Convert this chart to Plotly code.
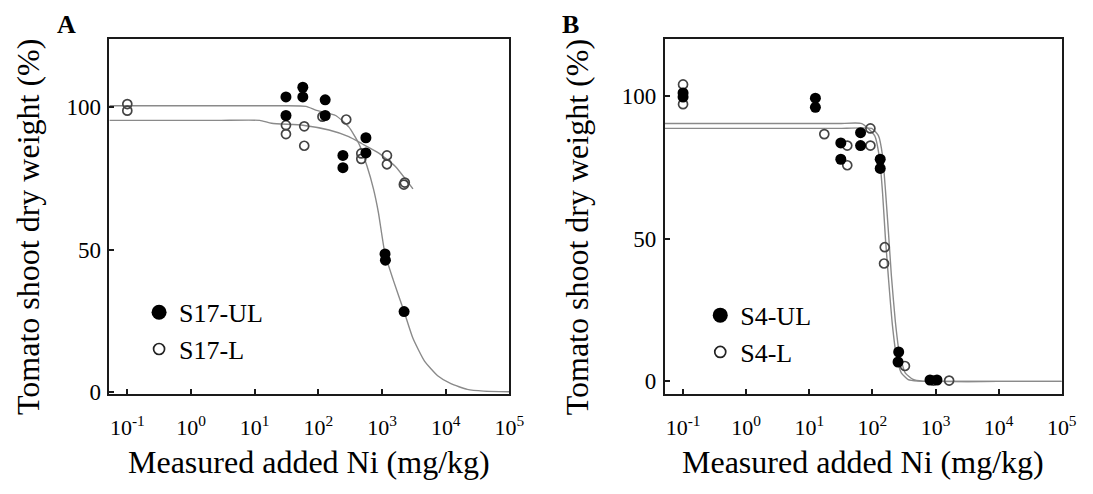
import plotly.graph_objects as go

# ---------------- data ----------------
# Panel A
A_ul_x = [31, 31, 57, 57, 128, 128, 243, 243, 558, 558, 1114, 1130, 2219]
A_ul_y = [103.5, 97, 106.9, 103.5, 102.5, 97, 83, 78.7, 89.2, 83.9, 48.5, 46.3, 28.3]
A_l_x = [0.1, 0.1, 31, 31, 60, 60, 116, 274, 472, 472, 1194, 1194, 2275, 2200]
A_l_y = [101, 98.7, 93.6, 90.5, 93.2, 86.4, 96.6, 95.6, 83.7, 81.8, 83, 79.9, 73.5, 72.8]
A_ulfit_x = [0.052, 0.3, 1, 3, 10, 30, 64, 91, 187, 300, 430, 580, 733, 877, 1114, 1497, 2218,
             3057, 4645, 7470, 12050, 21800, 39500, 100000]
A_ulfit_y = [100.4, 100.4, 100.4, 100.4, 100.4, 100.4, 100.2, 98.9, 97, 93, 87.3, 79.3, 71.3,
             63, 48.5, 39.4, 28.3, 18.9, 10.9, 5.8, 3, 1, 0.4, 0.2]
A_lfit_x = [0.052, 0.3, 1, 3, 12, 18.4, 57, 147, 300, 484, 877, 1592, 3057]
A_lfit_y = [95.3, 95.3, 95.3, 95.3, 95.3, 94.3, 93.6, 91.9, 89.6, 87.1, 83.9, 79.3, 71.3]

# Panel B
B_ul_x = [0.1, 0.1, 12.5, 12.5, 31.6, 31.6, 65, 65, 133, 133, 261, 255, 818, 1055]
B_ul_y = [101, 99.6, 99.2, 96.0, 83.5, 77.8, 87.1, 82.6, 77.8, 74.6, 10.3, 6.8, 0.5, 0.5]
B_l_x = [0.1, 0.1, 17.3, 40, 40, 93, 93, 157, 153, 328, 927, 1644]
B_l_y = [104, 97.1, 86.6, 82.6, 75.7, 88.6, 82.6, 47, 41.3, 5.4, 0.3, 0.3]
B_ulfit_x = [0.051, 0.3, 1, 3, 10, 30, 68, 109, 130, 145, 161, 180, 207, 240, 287, 369, 529,
             1000, 10000, 100000]
B_ulfit_y = [90.3, 90.3, 90.3, 90.3, 90.3, 90.3, 90.3, 86, 78, 66, 50, 36, 20, 9, 3, 0.6, 0.1,
             0, 0, 0]
B_lfit_x = [0.051, 0.3, 1, 3, 10, 30, 97.5, 125, 145, 161, 180, 200, 231, 267, 331, 442, 631,
            1000, 10000, 100000]
B_lfit_y = [88.6, 88.6, 88.6, 88.6, 88.6, 88.6, 88.6, 86, 79, 67, 52, 37, 21, 10, 3, 0.7, 0.1,
            0, 0, 0]

x_tickvals = [0.1, 1, 10, 100, 1000, 10000, 100000]
x_ticktext = ["10<sup>-1</sup>", "10<sup>0</sup>", "10<sup>1</sup>", "10<sup>2</sup>",
              "10<sup>3</sup>", "10<sup>4</sup>", "10<sup>5</sup>"]
y_tickvals = [0, 50, 100]
legend_A = ["S17-UL", "S17-L"]
legend_B = ["S4-UL", "S4-L"]
x_title = "Measured added Ni (mg/kg)"
y_title = "Tomato shoot dry weight (%)"

# ---------------- figure ----------------
W, H = 1093, 494
FONT = "Liberation Serif"
fig = go.Figure()

fitline = dict(color="#8a8a8a", width=1.4, shape="spline", smoothing=0.5)
filled = dict(symbol="circle", size=11, color="black", line=dict(width=0))
openm = dict(symbol="circle-open", size=9, color="#444", line=dict(width=1.7, color="#444"))

def add_panel(xa, ya, leg, fit1x, fit1y, fit2x, fit2y, ulx, uly, lx, ly, names):
    fig.add_trace(go.Scatter(x=fit1x, y=fit1y, mode="lines", line=fitline, xaxis=xa, yaxis=ya,
                             showlegend=False, hoverinfo="skip"))
    fig.add_trace(go.Scatter(x=fit2x, y=fit2y, mode="lines", line=fitline, xaxis=xa, yaxis=ya,
                             showlegend=False, hoverinfo="skip"))
    fig.add_trace(go.Scatter(x=lx, y=ly, mode="markers", marker=openm, xaxis=xa, yaxis=ya,
                             showlegend=False))
    fig.add_trace(go.Scatter(x=ulx, y=uly, mode="markers", marker=filled, xaxis=xa, yaxis=ya,
                             showlegend=False))
    # legend entries
    fig.add_trace(go.Scatter(x=[None], y=[None], mode="markers", name=names[0], xaxis=xa, yaxis=ya,
                             marker=dict(symbol="circle", size=15, color="black"), legend=leg))
    fig.add_trace(go.Scatter(x=[None], y=[None], mode="markers", name=names[1], xaxis=xa, yaxis=ya,
                             marker=dict(symbol="circle-open", size=11, color="#222",
                                         line=dict(width=1.7, color="#222")), legend=leg))

add_panel("x", "y", "legend", A_ulfit_x, A_ulfit_y, A_lfit_x, A_lfit_y,
          A_ul_x, A_ul_y, A_l_x, A_l_y, legend_A)
add_panel("x2", "y2", "legend2", B_ulfit_x, B_ulfit_y, B_lfit_x, B_lfit_y,
          B_ul_x, B_ul_y, B_l_x, B_l_y, legend_B)

def px_x(p): return p / W
def px_y(p): return 1 - p / H

axis_common = dict(showgrid=False, zeroline=False, showline=True, mirror=True,
                   linecolor="#1a1a1a", linewidth=2, ticks="inside", ticklen=5,
                   tickwidth=1.5, tickcolor="#1a1a1a")

xcommon = dict(axis_common, type="log", tickvals=x_tickvals, ticktext=x_ticktext,
               tickfont=dict(family=FONT, size=22, color="black"), ticklabelstandoff=13)
ycommon = dict(axis_common, tickvals=y_tickvals,
               tickfont=dict(family=FONT, size=23, color="black"), ticklabelstandoff=2)

fig.update_layout(
    width=W, height=H,
    margin=dict(l=0, r=0, t=0, b=0),
    paper_bgcolor="white", plot_bgcolor="white",
    xaxis=dict(xcommon, domain=[px_x(111), px_x(516.5)], range=[-1.28, 5], anchor="y"),
    yaxis=dict(ycommon, domain=[px_y(403.5), px_y(40)], range=[-0.5, 123.8], anchor="x"),
    xaxis2=dict(xcommon, domain=[px_x(674), px_x(1076.5)], range=[-1.29, 5], anchor="y2"),
    yaxis2=dict(ycommon, domain=[px_y(403.5), px_y(40)], range=[-4.3, 119.9], anchor="x2"),
    legend=dict(x=px_x(141), y=px_y(296), xanchor="left", yanchor="top",
                font=dict(family=FONT, size=26, color="black"), bgcolor="rgba(0,0,0,0)",
                itemsizing="trace"),
    legend2=dict(x=px_x(710), y=px_y(299), xanchor="left", yanchor="top",
                 font=dict(family=FONT, size=26, color="black"), bgcolor="rgba(0,0,0,0)",
                 itemsizing="trace"),
    showlegend=True,
)

ann = []
ann.append(dict(text="<b>A</b>", x=px_x(67), y=px_y(25)))
ann.append(dict(text="<b>B</b>", x=px_x(578), y=px_y(25)))
for a in ann:
    a.update(xref="paper", yref="paper", showarrow=False, xanchor="center", yanchor="middle",
             font=dict(family=FONT, size=26, color="black"))
titles = [
    dict(text=x_title, x=px_x(313.7), y=px_y(474), textangle=0),
    dict(text=x_title, x=px_x(875), y=px_y(474), textangle=0),
    dict(text=y_title, x=px_x(29), y=px_y(233), textangle=-90),
    dict(text=y_title, x=px_x(585), y=px_y(233), textangle=-90),
]
for t in titles:
    t.update(xref="paper", yref="paper", showarrow=False, xanchor="center", yanchor="middle",
             font=dict(family=FONT, size=32, color="black"))
fig.update_layout(annotations=ann + titles)

fig.write_html("out.html")
